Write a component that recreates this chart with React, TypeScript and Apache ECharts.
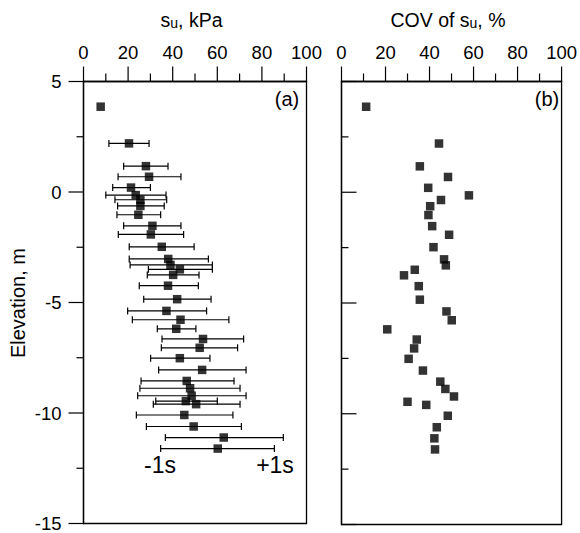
import React, { useEffect, useRef } from "react";
import * as echarts from "echarts";

const elevation = [3.86, 2.2, 1.17, 0.69, 0.2, -0.14, -0.35, -0.63, -1.03, -1.53, -1.92, -2.48, -3.03, -3.3, -3.5, -3.75, -4.24, -4.85, -5.38, -5.78, -6.19, -6.65, -7.05, -7.52, -8.05, -8.55, -8.88, -9.22, -9.46, -9.6, -10.09, -10.61, -11.11, -11.61];
const suMean = [7.7, 20.4, 28.0, 29.4, 21.3, 23.4, 25.5, 25.5, 24.6, 30.9, 30.2, 35.1, 38.0, 39.0, 43.2, 40.2, 37.9, 42.0, 37.2, 43.5, 41.6, 53.6, 52.1, 43.2, 53.2, 46.3, 47.8, 48.5, 45.9, 50.5, 45.2, 49.4, 62.9, 60.2];
const suMinus1s = [null, 11.4, 18.0, 15.5, 13.1, 10.0, 14.1, 15.3, 15.0, 18.0, 15.6, 20.5, 20.5, 20.9, 29.1, 28.6, 25.0, 27.0, 19.8, 21.9, 33.1, 35.2, 34.9, 30.1, 33.7, 25.8, 25.3, 24.3, 32.4, 31.3, 23.7, 28.2, 36.7, 34.6];
const suPlus1s = [null, 29.4, 37.9, 43.7, 30.0, 37.0, 37.3, 36.2, 34.6, 43.7, 44.9, 49.6, 56.0, 57.8, 57.8, 51.8, 51.5, 57.2, 55.2, 65.2, 50.4, 71.8, 69.1, 56.7, 72.9, 67.5, 70.2, 72.9, 60.0, 70.2, 67.0, 70.8, 89.6, 85.6];
const covSu = [11.2, 44.3, 35.6, 48.4, 39.4, 57.9, 45.2, 40.3, 39.5, 41.2, 48.9, 41.8, 46.6, 47.4, 33.3, 28.4, 35.1, 35.6, 47.7, 50.1, 20.8, 34.2, 33.0, 30.5, 37.0, 44.9, 47.2, 51.1, 30.0, 38.5, 48.3, 43.3, 42.2, 42.5];

// Tick positions (major ticks carry labels)
const xMajorTicks = [0, 20, 40, 60, 80, 100];
const xMinorTicks = [10, 30, 50, 70, 90];
const yMajorTicks = [5, 0, -5, -10, -15];
const yMinorTicks = [2.5, -2.5, -7.5, -12.5];

const X_MIN = 0, X_MAX = 100, X_INTERVAL = 20;
const Y_MIN = -15, Y_MAX = 5, Y_INTERVAL = 5;

const FONT = "'Liberation Sans', Arial, sans-serif";
const BLACK = "#000";
const MAJOR_LEN = 15;
const MINOR_LEN_X = 8;
const MINOR_LEN_Y = 7;

function xAxisCfg(gridIndex: number) {
  return {
    gridIndex,
    type: "value",
    position: "top",
    min: X_MIN,
    max: X_MAX,
    interval: X_INTERVAL,
    axisLine: { show: true, onZero: false, lineStyle: { color: BLACK, width: 1.3 } },
    axisTick: { show: false },
    axisLabel: { show: true, color: BLACK, fontSize: 18.5, fontFamily: FONT, margin: 20 },
    splitLine: { show: false },
  };
}

function yAxisCfg(gridIndex: number, labels: boolean) {
  return {
    gridIndex,
    type: "value",
    position: "left",
    min: Y_MIN,
    max: Y_MAX,
    interval: Y_INTERVAL,
    axisLine: { show: true, onZero: false, lineStyle: { color: BLACK, width: 1.3 } },
    axisTick: { show: false },
    axisLabel: { show: labels, color: BLACK, fontSize: 18.5, fontFamily: FONT, margin: 22 },
    splitLine: { show: false },
  };
}

export default function App() {
  const ref = useRef<HTMLDivElement>(null);

  useEffect(() => {
    if (!ref.current) return;
    const chart = echarts.init(ref.current, undefined, { renderer: "svg" });

    const errData: any[] = [];
    elevation.forEach((e, i) => {
      if (suMinus1s[i] != null && suPlus1s[i] != null) {
        errData.push([suMinus1s[i], suPlus1s[i], e]);
      }
    });

    const titleRich = {
      a: { fontSize: 19.5, fontFamily: FONT, color: BLACK, lineHeight: 20, verticalAlign: "bottom" },
      b: { fontSize: 14, fontFamily: FONT, color: BLACK, lineHeight: 15, verticalAlign: "bottom" },
    };

    const textGraphics: any[] = [
      {
        type: "text",
        x: 191.5,
        y: 20,
        style: { text: "{a|s}{b|u}{a|, kPa}", rich: titleRich, align: "center", verticalAlign: "middle" },
      },
      {
        type: "text",
        x: 448,
        y: 20,
        style: { text: "{a|COV of s}{b|u}{a|, %}", rich: titleRich, align: "center", verticalAlign: "middle" },
      },
      {
        type: "text",
        x: 18,
        y: 303,
        rotation: Math.PI / 2,
        style: { text: "Elevation, m", fontSize: 20, fontFamily: FONT, fill: BLACK, align: "center", verticalAlign: "middle" },
      },
      {
        type: "text",
        x: 287,
        y: 99,
        style: { text: "(a)", fontSize: 20, fontFamily: FONT, fill: BLACK, align: "center", verticalAlign: "middle" },
      },
      {
        type: "text",
        x: 547,
        y: 99,
        style: { text: "(b)", fontSize: 20, fontFamily: FONT, fill: BLACK, align: "center", verticalAlign: "middle" },
      },
      {
        type: "text",
        x: 160,
        y: 465,
        style: { text: "-1s", fontSize: 23, fontFamily: FONT, fill: BLACK, align: "center", verticalAlign: "middle" },
      },
      {
        type: "text",
        x: 275,
        y: 465,
        style: { text: "+1s", fontSize: 23, fontFamily: FONT, fill: BLACK, align: "center", verticalAlign: "middle" },
      },
    ];

    const option: any = {
      animation: false,
      backgroundColor: "#fff",
      grid: [
        { left: 83.5, top: 81.5, width: 223, height: 443, show: true, borderColor: BLACK, borderWidth: 1.3, backgroundColor: "transparent" },
        { left: 341.5, top: 81.5, width: 222, height: 443, show: true, borderColor: BLACK, borderWidth: 1.3, backgroundColor: "transparent" },
      ],
      xAxis: [xAxisCfg(0), xAxisCfg(1)],
      yAxis: [yAxisCfg(0, true), yAxisCfg(1, false)],
      series: [
        {
          type: "custom",
          xAxisIndex: 0,
          yAxisIndex: 0,
          data: errData,
          encode: { x: [0, 1], y: 2 },
          z: 2,
          renderItem: (params: any, api: any) => {
            const lo = api.coord([api.value(0), api.value(2)]);
            const hi = api.coord([api.value(1), api.value(2)]);
            const cap = 3.5;
            const style = { stroke: BLACK, lineWidth: 1.2 };
            return {
              type: "group",
              children: [
                { type: "line", shape: { x1: lo[0], y1: lo[1], x2: hi[0], y2: hi[1] }, style },
                { type: "line", shape: { x1: lo[0], y1: lo[1] - cap, x2: lo[0], y2: lo[1] + cap }, style },
                { type: "line", shape: { x1: hi[0], y1: hi[1] - cap, x2: hi[0], y2: hi[1] + cap }, style },
              ],
            };
          },
        },
        {
          type: "scatter",
          xAxisIndex: 0,
          yAxisIndex: 0,
          symbol: "rect",
          symbolSize: 8.5,
          itemStyle: { color: BLACK },
          z: 3,
          data: elevation.map((e, i) => [suMean[i], e]),
        },
        {
          type: "scatter",
          xAxisIndex: 1,
          yAxisIndex: 1,
          symbol: "rect",
          symbolSize: 8.5,
          itemStyle: { color: BLACK },
          z: 3,
          data: elevation.map((e, i) => [covSu[i], e]),
        },
      ],
      graphic: textGraphics,
    };

    chart.setOption(option);

    // Axis ticks, placed through the chart's own coordinate conversion
    const tickStyle = { stroke: BLACK, lineWidth: 1.2 };
    const tickGraphics: any[] = [];
    [0, 1].forEach((gi) => {
      const toPx = (v: number[]) => chart.convertToPixel({ gridIndex: gi } as any, v) as number[];
      const addTop = (v: number, len: number) => {
        const p = toPx([v, Y_MAX]);
        if (!p) return;
        tickGraphics.push({ type: "line", z: 100, silent: true, shape: { x1: p[0], y1: p[1], x2: p[0], y2: p[1] - len }, style: tickStyle });
      };
      const dir = gi === 0 ? -1 : 1;
      const addLeft = (v: number, len: number) => {
        const p = toPx([X_MIN, v]);
        if (!p) return;
        tickGraphics.push({ type: "line", z: 100, silent: true, shape: { x1: p[0], y1: p[1], x2: p[0] + dir * len, y2: p[1] }, style: tickStyle });
      };
      xMajorTicks.forEach((v) => addTop(v, MAJOR_LEN));
      xMinorTicks.forEach((v) => addTop(v, MINOR_LEN_X));
      yMajorTicks.forEach((v) => addLeft(v, MAJOR_LEN));
      yMinorTicks.forEach((v) => addLeft(v, MINOR_LEN_Y));
    });

    chart.setOption({ graphic: textGraphics.concat(tickGraphics) });

    return () => chart.dispose();
  }, []);

  return <div ref={ref} style={{ width: 580, height: 533, position: "absolute", left: 0, top: 0 }} />;
}
